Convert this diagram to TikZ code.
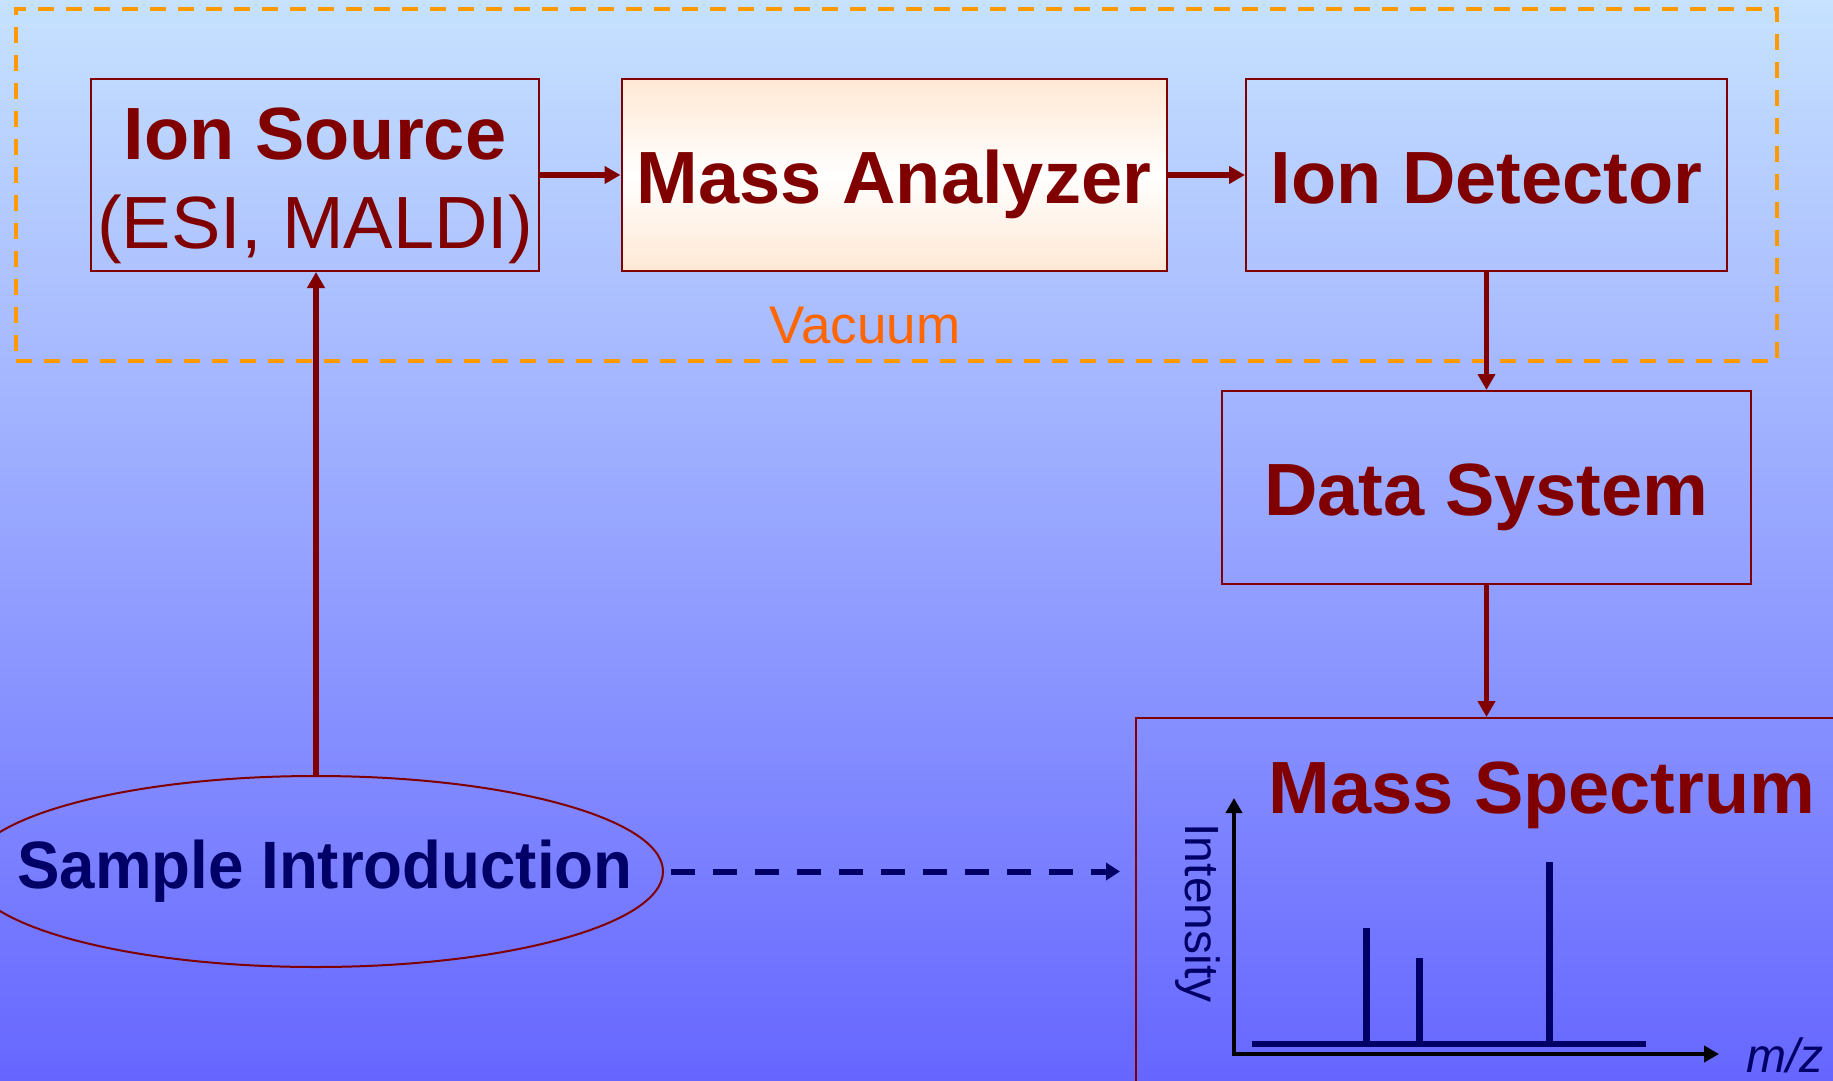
\documentclass[tikz,border=0pt]{standalone}
\usepackage{fontspec}
\setmainfont{Liberation Sans}
\newfontfamily\narrowsans[FakeStretch=0.95]{Liberation Sans}
\usetikzlibrary{arrows.meta,shapes.geometric}

\definecolor{boxred}{RGB}{128,0,0}
\definecolor{navy}{RGB}{0,0,102}
\definecolor{vacorange}{RGB}{255,153,0}
\definecolor{vactext}{RGB}{255,102,0}
\definecolor{skytop}{RGB}{198,226,255}
\definecolor{skybottom}{RGB}{102,102,255}
\definecolor{peach}{RGB}{255,232,212}

\begin{document}
\begin{tikzpicture}[x=1pt,y=-1pt,
  stagebox/.style={draw=boxred, line width=2pt, text=boxred, inner sep=0pt,
    minimum height=192pt, font=\fontsize{74}{89}\selectfont\bfseries},
  stageone/.style={stagebox, text height=56pt, text depth=0pt},
  flow/.style={draw=boxred, line width=5.5pt, -{Triangle[length=16pt,width=17pt]}},
  sampleflow/.style={draw=navy, line width=6pt, dash pattern=on 24pt off 18pt,
    -{Triangle[length=14pt,width=17pt]}},
  vacbox/.style={draw=vacorange, line width=4pt, dash pattern=on 16pt off 12pt,
    inner sep=0pt},
  axisline/.style={draw=black, line width=4pt,
    {Triangle[length=15pt,width=16pt]}-{Triangle[length=15pt,width=16pt]}},
  peak/.style={draw=navy, line width=7pt},
  plotlabel/.style={text=navy, font=\fontsize{48}{56}\selectfont}
]
\useasboundingbox (0,0) rectangle (1833,1081);
\clip (0,0) rectangle (1833,1081);

% background
\fill[top color=skytop, bottom color=skybottom] (0,0) rectangle (1833,1081);

% vacuum enclosure
\node[vacbox, minimum width=1761pt, minimum height=352pt, anchor=north west]
  (vac) at (14,7) {};
\node[text=vactext, font=\fontsize{53}{60}\selectfont, anchor=base]
  (vaclabel) at (865,343) {Vacuum};

% instrument stages
\node[stagebox, minimum width=448pt, align=center] (src) at (315,175)
  {\rule{0pt}{73pt}Ion Source\\{\mdseries (ESI, MALDI)}};
\node[stageone, minimum width=545pt, top color=peach, bottom color=peach,
  middle color=white] (ma) at (894,175) {Mass Analyzer};
\node[stageone, minimum width=481pt] (det) at (1486.5,175) {Ion Detector};
\node[stageone, minimum width=529pt, minimum height=193pt] (ds) at (1486.5,487.5)
  {Data System};

% mass spectrum panel
\node[draw=boxred, line width=2pt, minimum width=800pt, minimum height=500pt,
  anchor=north west] (spec) at (1135,717) {};
\node[text=boxred, font=\fontsize{74}{89}\selectfont\bfseries, anchor=base]
  (spectitle) at (1542,813) {Mass Spectrum};

% sample introduction
\node[ellipse, draw=boxred, line width=2pt, minimum width=694pt,
  minimum height=191pt] (samp) at (316,871.5) {};
\node[text=navy, font=\narrowsans\fontsize{67}{80}\selectfont\bfseries]
  (samptext) at (325,871.5) {Sample Introduction};

% connectors
\draw[flow] (src.east) -- (ma.west);
\draw[flow] (ma.east) -- (det.west);
\draw[flow] (det.south) -- (ds.north);
\draw[flow] (ds.south) -- (ds.south |- spec.north);
\draw[flow] (samp.north) -- (samp.north |- src.south);
\draw[sampleflow, shorten <=7pt, shorten >=15pt] (samp.east) -- (samp.east -| spec.west);

% spectrum plot
\coordinate (origin) at (1234,1054);
\draw[axisline] (1234,798) -- (origin) -- (1719,1054);
\draw[draw=navy, line width=6pt] (1252,1044) -- (1646,1044);
\draw[peak] (1366,1044) -- (1366,928);
\draw[peak] (1419,1044) -- (1419,958);
\draw[peak] (1549,1044) -- (1549,862);
\node[plotlabel, rotate=-90] (ylabel) at (1198,913) {Intensity};
\node[plotlabel, font=\fontsize{48}{56}\selectfont\itshape, anchor=base west]
  (xlabel) at (1743,1072) {m/z};
\end{tikzpicture}
\end{document}
